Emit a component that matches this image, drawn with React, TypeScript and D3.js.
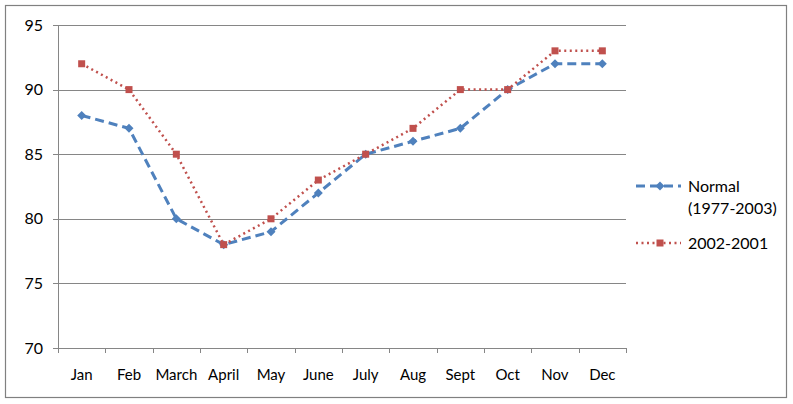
import React from "react";
import * as d3 from "d3";

const months = ["Jan", "Feb", "March", "April", "May", "June", "July", "Aug", "Sept", "Oct", "Nov", "Dec"];
const normal = [88, 87, 80, 78, 79, 82, 85, 86, 87, 90, 92, 92];
const recent = [92, 90, 85, 78, 80, 83, 85, 87, 90, 90, 93, 93];
const yTicks = [70, 75, 80, 85, 90, 95];
const seriesNames = ["Normal", "(1977-2003)", "2002-2001"];

const W = 793, H = 404;
const left = 58, right = 626, top = 25, bottom = 348;
const BLUE = "#4F81BD", RED = "#C0504D", GRID = "#868686";
const FONT = "Lato, 'Open Sans', sans-serif";

export default function App() {
  const x = d3.scaleBand<string>().domain(months).range([left, right]);
  const y = d3.scaleLinear().domain([70, 95]).range([bottom, top]);
  const cx = (m: string) => (x(m) as number) + x.bandwidth() / 2;
  const line = d3.line<number>().x((_, i) => cx(months[i])).y((d) => y(d));
  const bounds = months.map((m) => x(m) as number).concat([right]);
  return (
    <div style={{ position: "absolute", left: 0, top: 0 }}>
      <svg width={W} height={H} style={{ display: "block" }} fontFamily={FONT}>
        <rect x={5.5} y={5.5} width={781} height={392} fill="#ffffff" stroke="#808080" strokeWidth={1.2} />
        {yTicks.map((t) => (
          <g key={t}>
            <line x1={left - 5} x2={right} y1={Math.round(y(t)) + 0.5} y2={Math.round(y(t)) + 0.5} stroke={GRID} />
            <text x={43} y={y(t)} dy="0.35em" textAnchor="end" fontSize={16} fill="#000">{t}</text>
          </g>
        ))}
        <line x1={left + 0.5} x2={left + 0.5} y1={top} y2={bottom} stroke={GRID} />
        {bounds.map((b, i) => (
          <line key={i} x1={Math.round(b) + 0.5} x2={Math.round(b) + 0.5} y1={bottom} y2={bottom + 5} stroke={GRID} />
        ))}
        {months.map((m) => (
          <text key={m} x={cx(m)} y={375} dy="0.35em" textAnchor="middle" fontSize={15} fill="#000">{m}</text>
        ))}
        <path d={line(normal) || ""} fill="none" stroke={BLUE} strokeWidth={3} strokeDasharray="9,5" />
        <path d={line(recent) || ""} fill="none" stroke={RED} strokeWidth={2.5} strokeDasharray="2,3.5" />
        {normal.map((v, i) => {
          const px = cx(months[i]), py = y(v);
          return <path key={i} d={`M${px - 4.5},${py} L${px},${py - 4.5} L${px + 4.5},${py} L${px},${py + 4.5} Z`} fill={BLUE} />;
        })}
        {recent.map((v, i) => {
          const px = cx(months[i]), py = y(v);
          return <rect key={i} x={px - 3.5} y={py - 3.5} width={7} height={7} fill={RED} />;
        })}
        <line x1={636} x2={681} y1={186} y2={186} stroke={BLUE} strokeWidth={3} strokeDasharray="9,5" />
        <path d="M660,181.5 L664.5,186 L660,190.5 L655.5,186 Z" fill={BLUE} />
        <text x={688} y={186} dy="0.35em" fontSize={16} fill="#000">{seriesNames[0]}</text>
        <text x={688} y={208} dy="0.35em" fontSize={16} fill="#000">{seriesNames[1]}</text>
        <line x1={636} x2={681} y1={243} y2={243} stroke={RED} strokeWidth={2.5} strokeDasharray="2,3.5" />
        <rect x={656.5} y={239.5} width={7} height={7} fill={RED} />
        <text x={688} y={243} dy="0.35em" fontSize={16} fill="#000">{seriesNames[2]}</text>
      </svg>
    </div>
  );
}
